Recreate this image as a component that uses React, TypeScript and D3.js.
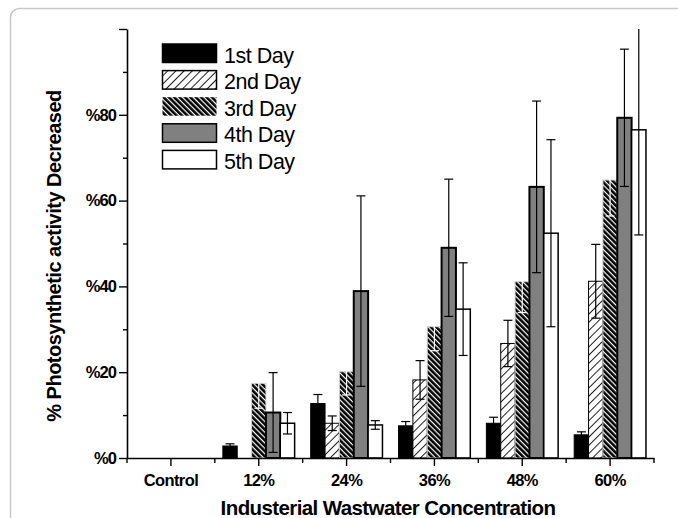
import { useEffect, useRef } from 'react';
import * as d3 from 'd3';

const categories = ['Control', '12%', '24%', '36%', '48%', '60%'];
const days = ['1st Day', '2nd Day', '3rd Day', '4th Day', '5th Day'];

// values per day across categories (% decrease)
const day1 = [0, 2.8, 12.7, 7.5, 8.1, 5.4];
const day2 = [0, 0, 8.1, 18.2, 26.7, 41.2];
const day3 = [0, 17.4, 20.1, 30.6, 41.1, 64.8];
const day4 = [0, 10.6, 38.9, 49.0, 63.2, 79.3];
const day5 = [0, 8.1, 7.7, 34.7, 52.4, 76.5];

// error bars
const err1 = [0, 0.5, 2.1, 1.0, 1.4, 0.7];
const err2 = [0, 0, 1.7, 4.5, 5.4, 8.6];
const err3 = [0, 5.8, 5.4, 5.6, 7.2, 8.4];
const err4 = [0, 9.3, 22.2, 16.0, 20.0, 16.0];
const err5 = [0, 2.5, 1.0, 10.8, 21.8, 24.5];

const yMajor = [0, 20, 40, 60, 80, 100];
const yMinor = [10, 30, 50, 70, 90];

export default function App() {
  const svgRef = useRef<SVGSVGElement>(null);

  useEffect(() => {
    if (!svgRef.current) return;
    const svg = d3.select(svgRef.current);
    svg.selectAll('*').remove();

    const values = [day1, day2, day3, day4, day5];
    const errors = [err1, err2, err3, err4, err5];
    const fills = ['#000000', 'url(#hatch2)', 'url(#hatch3)', '#808080', '#ffffff'];
    const strokes = ['#000000', '#000000', '#d0d0d0', '#000000', '#000000'];
    const strokeW = [1, 1, 1, 2, 1.5];
    const errColors = ['#000000', '#000000', '#ffffff', '#000000', '#000000'];

    const font = 'Arial, "Liberation Sans", sans-serif';

    // patterns
    const defs = svg.append('defs');
    const p2 = defs.append('pattern')
      .attr('id', 'hatch2')
      .attr('patternUnits', 'userSpaceOnUse')
      .attr('width', 5.8).attr('height', 10)
      .attr('patternTransform', 'rotate(45)');
    p2.append('rect').attr('width', 5.8).attr('height', 10).attr('fill', '#fff');
    p2.append('line').attr('x1', 0.5).attr('x2', 0.5).attr('y1', 0).attr('y2', 10)
      .attr('stroke', '#000').attr('stroke-width', 0.9);

    const p3 = defs.append('pattern')
      .attr('id', 'hatch3')
      .attr('patternUnits', 'userSpaceOnUse')
      .attr('width', 3.8).attr('height', 10)
      .attr('patternTransform', 'rotate(-45)');
    p3.append('rect').attr('width', 3.8).attr('height', 10).attr('fill', '#fff');
    p3.append('rect').attr('width', 2.6).attr('height', 10).attr('fill', '#000');

    // frame
    svg.append('rect')
      .attr('x', 10.5).attr('y', 8.5)
      .attr('width', 720).attr('height', 560)
      .attr('rx', 9)
      .attr('fill', 'none')
      .attr('stroke', '#c8c8c8')
      .attr('stroke-width', 1.5);

    const x = d3.scaleBand().domain(categories).range([127, 654]).padding(0);
    const x1 = d3.scaleBand().domain(days).range([0, x.bandwidth()]).paddingInner(0).paddingOuter(0.56);
    const y = d3.scaleLinear().domain([0, 100]).range([458, 29]);

    // bars
    const g = svg.append('g');
    values.forEach((vals, di) => {
      g.selectAll(null)
        .data(categories.map((c, i) => ({ c, v: vals[i] })).filter(d => d.v > 0))
        .enter()
        .append('rect')
        .attr('x', d => (x(d.c) || 0) + (x1(days[di]) || 0))
        .attr('y', d => y(d.v))
        .attr('width', x1.bandwidth())
        .attr('height', d => y(0) - y(d.v))
        .attr('fill', fills[di])
        .attr('stroke', strokes[di])
        .attr('stroke-width', strokeW[di]);
    });

    // error bars
    const cap = 4.5;
    values.forEach((vals, di) => {
      categories.forEach((c, i) => {
        const v = vals[i];
        const e = errors[di][i];
        if (v <= 0 || e <= 0) return;
        const cx = (x(c) || 0) + (x1(days[di]) || 0) + x1.bandwidth() / 2;
        const top = Math.min(v + e, 100);
        const bot = Math.max(v - e, 0);
        const eg = g.append('g').attr('stroke', errColors[di]).attr('stroke-width', 1.2);
        eg.append('line').attr('x1', cx).attr('x2', cx).attr('y1', y(top)).attr('y2', y(bot));
        if (v + e <= 100) {
          eg.append('line').attr('x1', cx - cap).attr('x2', cx + cap).attr('y1', y(v + e)).attr('y2', y(v + e));
        }
        eg.append('line').attr('x1', cx - cap).attr('x2', cx + cap).attr('y1', y(bot)).attr('y2', y(bot));
      });
    });

    // y axis
    const yAxis = svg.append('g').attr('transform', 'translate(127,0)');
    yAxis.call(
      d3.axisLeft(y).tickValues(yMajor).tickSize(8).tickSizeOuter(0)
        .tickFormat(d => (d === 100 ? '' : '%' + d))
    );
    const yMinorG = svg.append('g').attr('transform', 'translate(127,0)');
    yMinorG.call(d3.axisLeft(y).tickValues(yMinor).tickSize(4).tickFormat(() => ''));
    yMinorG.select('.domain').remove();
    yAxis.select('.domain').attr('stroke-width', 1.6);
    yAxis.selectAll('.tick line').attr('stroke-width', 1.4);
    yMinorG.selectAll('.tick line').attr('stroke-width', 1.4);
    yAxis.selectAll('.tick text')
      .attr('font-family', font)
      .attr('font-weight', 'bold')
      .attr('font-size', 16.5)
      .attr('letter-spacing', -0.9)
      .attr('x', -11)
      .attr('fill', '#000');

    // x axis
    const xAxis = svg.append('g').attr('transform', 'translate(0,458)');
    xAxis.call(d3.axisBottom(x).tickSize(8).tickSizeOuter(0));
    xAxis.select('.domain').attr('stroke-width', 1.6);
    xAxis.selectAll('.tick line').attr('stroke-width', 1.4);
    xAxis.selectAll('.tick text')
      .attr('font-family', font)
      .attr('font-weight', 'bold')
      .attr('font-size', 16.5)
      .attr('letter-spacing', -0.6)
      .attr('y', 16)
      .attr('fill', '#000');
    const bounds = d3.range(categories.length + 1).map(i => 127 + i * x.step());
    xAxis.selectAll(null)
      .data(bounds)
      .enter()
      .append('line')
      .attr('x1', d => d).attr('x2', d => d)
      .attr('y1', 0).attr('y2', 5)
      .attr('stroke', '#000')
      .attr('stroke-width', 1.4);

    // axis titles
    svg.append('text')
      .attr('x', 388).attr('y', 515)
      .attr('text-anchor', 'middle')
      .attr('font-family', font)
      .attr('font-weight', 'bold')
      .attr('font-size', 20.5)
      .attr('letter-spacing', -0.6)
      .text('Industerial Wastwater Concentration');

    svg.append('text')
      .attr('transform', 'translate(61,256) rotate(-90)')
      .attr('text-anchor', 'middle')
      .attr('font-family', font)
      .attr('font-weight', 'bold')
      .attr('font-size', 20)
      .attr('letter-spacing', -0.5)
      .text('% Photosynthetic activity Decreased');

    // legend
    const legend = svg.append('g');
    const legendStroke = ['#000', '#000', 'none', '#000', '#000'];
    days.forEach((d, i) => {
      const ly = 44 + i * 26.6;
      legend.append('rect')
        .attr('x', 162.5).attr('y', ly)
        .attr('width', 54).attr('height', 18.5)
        .attr('fill', fills[i])
        .attr('stroke', legendStroke[i])
        .attr('stroke-width', 1.5);
      legend.append('text')
        .attr('x', 224).attr('y', ly + 18.5)
        .attr('font-family', font)
        .attr('font-size', 21.5)
        .attr('letter-spacing', -0.5)
        .text(d);
    });
  }, []);

  return (
    <svg
      ref={svgRef}
      width={678}
      height={518}
      style={{ position: 'absolute', left: 0, top: 0, background: '#fff' }}
    />
  );
}
